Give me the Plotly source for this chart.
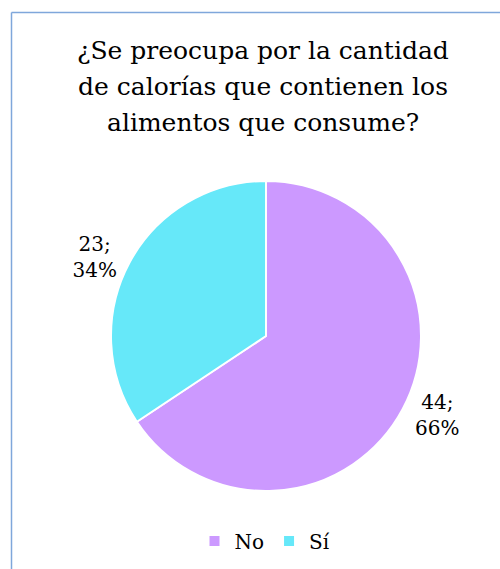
import plotly.graph_objects as go

labels = ["No", "Sí"]
values = [44, 23]
colors = ["#CC99FF", "#66E8F9"]
title_lines = ["¿Se preocupa por la cantidad", "de calorías que contienen los", "alimentos que consume?"]

W, H = 500, 569
fig = go.Figure(go.Pie(
    labels=labels, values=values, sort=False, direction="clockwise", rotation=0,
    marker=dict(colors=colors, line=dict(color="white", width=2)),
    texttemplate="%{value};<br>%{percent:.0%}", textposition="outside",
    textfont=dict(family="DejaVu Serif", size=20, color="#000"),
    domain=dict(x=[111/W, 421/W], y=[1-491/H, 1-181/H]),
    hoverinfo="label+value+percent",
))
title_y = [50, 86, 122]
annotations = [
    dict(text=t, xref="paper", yref="paper", x=263/W, y=1-yy/H, xanchor="center", yanchor="middle",
         showarrow=False, font=dict(family="DejaVu Serif", size=25, color="#000"))
    for t, yy in zip(title_lines, title_y)
]
fig.update_layout(
    width=W, height=H, margin=dict(l=0, r=0, t=0, b=0),
    paper_bgcolor="white", plot_bgcolor="white",
    annotations=annotations,
    legend=dict(orientation="h", x=0.53, xanchor="center", y=1-541/H, yanchor="middle",
                font=dict(family="DejaVu Serif", size=20, color="#000"), itemwidth=30),
    shapes=[
        dict(type="line", xref="paper", yref="paper", x0=11.5/W, x1=1, y0=1-12.5/H, y1=1-12.5/H,
             line=dict(color="#7FA7DB", width=1.5)),
        dict(type="line", xref="paper", yref="paper", x0=11.5/W, x1=11.5/W, y0=0, y1=1-12.5/H,
             line=dict(color="#7FA7DB", width=1.5)),
    ],
)
fig.write_html("out.html")
